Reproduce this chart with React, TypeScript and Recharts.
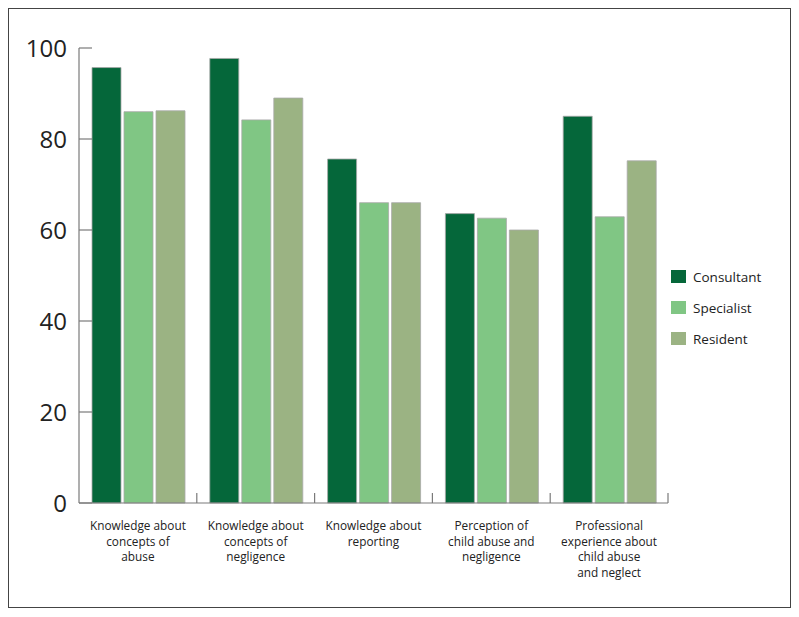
import React from "react";
import { BarChart, Bar, XAxis, YAxis } from "recharts";

const categories = [
  "Knowledge about|concepts of|abuse",
  "Knowledge about|concepts of|negligence",
  "Knowledge about|reporting",
  "Perception of|child abuse and|negligence",
  "Professional|experience about|child abuse|and neglect",
];
const consultant = [95.7, 97.7, 75.6, 63.6, 85.0];
const specialist = [86.0, 84.2, 66.0, 62.6, 62.9];
const resident = [86.2, 89.0, 66.0, 60.0, 75.2];
const yTicks = [0, 20, 40, 60, 80, 100];

const seriesNames = ["Consultant", "Specialist", "Resident"];
const colors = ["#05673a", "#80c684", "#9bb383"];

const data = categories.map((c, i) => ({
  name: c,
  Consultant: consultant[i],
  Specialist: specialist[i],
  Resident: resident[i],
}));

const FONT = "'Open Sans', sans-serif";
const AXIS = "#7a7a7a";

const YTick = (props: any) => {
  const { x, y, payload } = props;
  const ax = x + 12;
  return (
    <g>
      <line x1={ax} x2={ax + 13} y1={y} y2={y} stroke={AXIS} strokeWidth={1.2} />
      <text x={x} y={y + 9} textAnchor="end" fontFamily={FONT} fontSize={24} fill="#222">
        {payload.value}
      </text>
    </g>
  );
};

const XTick = (props: any) => {
  const { x, y, payload } = props;
  const off = payload.offset || 58.9;
  const lines = String(payload.value).split("|");
  return (
    <g>
      <line x1={x + off} x2={x + off} y1={y} y2={y - 10} stroke={AXIS} strokeWidth={1.2} />
      {lines.map((l, i) => (
        <text key={i} x={x} y={y + 27 + i * 15.5} textAnchor="middle" fontFamily={FONT} fontSize={11.8} fill="#222">
          {l}
        </text>
      ))}
    </g>
  );
};

const LegendBox = () => (
  <div style={{ position: "absolute", left: 662, top: 252, fontFamily: FONT }}>
    {seriesNames.map((n, i) => (
      <div key={n} style={{ display: "flex", alignItems: "center", height: 31 }}>
        <div style={{ width: 15, height: 13, background: colors[i], marginRight: 7 }} />
        <span style={{ fontSize: 13.5, color: "#222" }}>{n}</span>
      </div>
    ))}
  </div>
);

export default function App() {
  return (
    <div style={{ position: "relative", width: 781, height: 598, border: "1.5px solid #444", background: "#fff" }}>
      <BarChart
        width={781}
        height={598}
        data={data}
        margin={{ top: 39, right: 122, bottom: 14, left: 10 }}
        barCategoryGap={13}
        barGap={3}
      >
        <XAxis
          dataKey="name"
          interval={0}
          height={90}
          tickSize={0}
          tickMargin={0}
          tickLine={false}
          axisLine={{ stroke: AXIS, strokeWidth: 1.2 }}
          tick={<XTick />}
        />
        <YAxis
          domain={[0, 100]}
          ticks={yTicks}
          width={60}
          tickSize={0}
          tickMargin={12}
          tickLine={false}
          axisLine={{ stroke: AXIS, strokeWidth: 1.2 }}
          tick={<YTick />}
        />
        {seriesNames.map((n, i) => (
          <Bar key={n} dataKey={n} fill={colors[i]} stroke="#a8a8a8" strokeWidth={0.8} isAnimationActive={false} />
        ))}
      </BarChart>
      <LegendBox />
    </div>
  );
}
